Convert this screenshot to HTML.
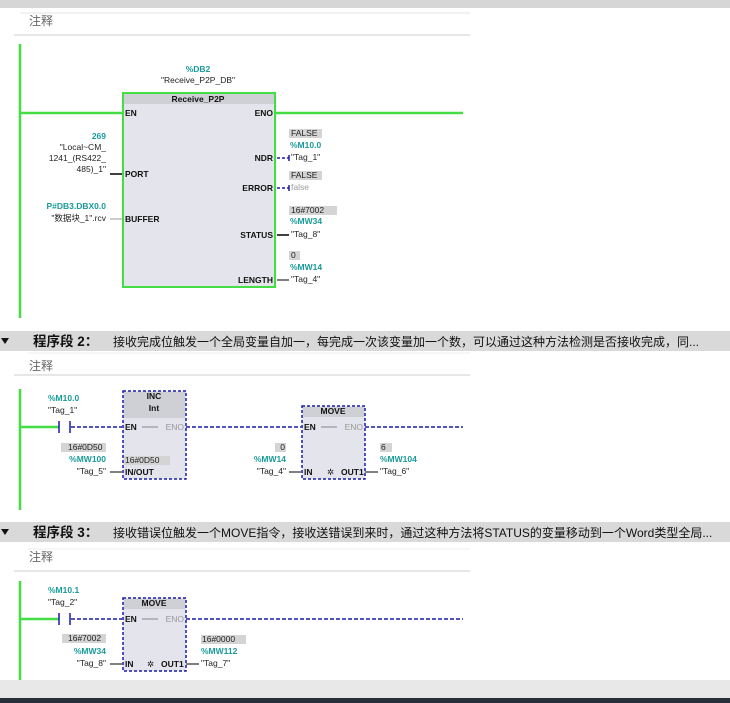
<!DOCTYPE html>
<html><head><meta charset="utf-8"><style>
html,body{margin:0;padding:0;background:#fff;width:730px;height:703px;overflow:hidden}
svg{display:block}
text{font-family:"Liberation Sans","Noto Sans CJK SC",sans-serif;font-size:8.5px;fill:#222}
.t{fill:#1a9a9a;font-weight:bold}
.b{font-weight:bold;fill:#111}
.g{fill:#999}
.cj{font-size:12px;fill:#666}
.h{font-size:13.5px;font-weight:bold;fill:#111}
.hd{font-size:12px;fill:#111}
</style></head><body>
<svg width="730" height="703" viewBox="0 0 730 703" xmlns="http://www.w3.org/2000/svg">
<rect x="0" y="0" width="730" height="8" fill="#d6d6d6"/>
<line x1="20" y1="13" x2="470" y2="13" stroke="#e6e6e6"/>
<text x="29" y="25" class="cj">注释</text>
<line x1="14" y1="35" x2="470" y2="35" stroke="#cfcfcf"/>

<line x1="20" y1="44" x2="20" y2="318" stroke="#44dd44" stroke-width="2.5"/>
<line x1="20" y1="113" x2="122" y2="113" stroke="#44dd44" stroke-width="2.5"/>
<line x1="276" y1="113" x2="463" y2="113" stroke="#44dd44" stroke-width="2.5"/>
<text x="198" y="72" class="t" text-anchor="middle">%DB2</text>
<text x="198" y="83" text-anchor="middle">"Receive_P2P_DB"</text>
<rect x="123" y="93" width="152" height="194" fill="#e4e4ec" stroke="#44dd44" stroke-width="2"/>
<rect x="124" y="94" width="150" height="10" fill="#cfcfd6"/>
<text x="198" y="102" class="b" text-anchor="middle">Receive_P2P</text>
<text x="125" y="116" class="b">EN</text>
<text x="273" y="116" class="b" text-anchor="end">ENO</text>
<text x="106" y="139" class="t" text-anchor="end">269</text>
<text x="106" y="150" text-anchor="end" fill="#557">"Local~CM_</text>
<text x="106" y="161" text-anchor="end" fill="#557">1241_(RS422_</text>
<text x="106" y="172" text-anchor="end" fill="#557">485)_1"</text>
<line x1="110" y1="174" x2="122" y2="174" stroke="#000" stroke-width="1.5"/>
<text x="125" y="177" class="b">PORT</text>
<text x="106" y="209" class="t" text-anchor="end">P#DB3.DBX0.0</text>
<text x="106" y="221" text-anchor="end">"数据块_1".rcv</text>
<line x1="110" y1="219" x2="122" y2="219" stroke="#999"/>
<text x="125" y="222" class="b">BUFFER</text>
<rect x="289" y="129" width="33" height="9" fill="#d4d4d4"/>
<text x="291" y="136">FALSE</text>
<text x="290" y="148" class="t">%M10.0</text>
<text x="273" y="161" class="b" text-anchor="end">NDR</text>
<line x1="277" y1="158" x2="289" y2="158" stroke="#1a1aaa" stroke-width="1.5" stroke-dasharray="3,2"/>
<line x1="289" y1="155" x2="289" y2="161" stroke="#1a1aaa" stroke-width="1.5"/>
<text x="291" y="160">"Tag_1"</text>
<rect x="289" y="171" width="33" height="9" fill="#d4d4d4"/>
<text x="291" y="178">FALSE</text>
<text x="273" y="191" class="b" text-anchor="end">ERROR</text>
<line x1="277" y1="188" x2="289" y2="188" stroke="#1a1aaa" stroke-width="1.5" stroke-dasharray="3,2"/>
<line x1="289" y1="185" x2="289" y2="191" stroke="#1a1aaa" stroke-width="1.5"/>
<text x="291" y="190" class="g">false</text>
<rect x="289" y="206" width="48" height="9" fill="#d4d4d4"/>
<text x="291" y="213">16#7002</text>
<text x="290" y="224" class="t">%MW34</text>
<text x="273" y="238" class="b" text-anchor="end">STATUS</text>
<line x1="277" y1="235" x2="289" y2="235" stroke="#000" stroke-width="1.5"/>
<text x="291" y="237">"Tag_8"</text>
<rect x="289" y="251" width="11" height="9" fill="#d4d4d4"/>
<text x="291" y="258">0</text>
<text x="290" y="270" class="t">%MW14</text>
<text x="273" y="283" class="b" text-anchor="end">LENGTH</text>
<line x1="277" y1="280" x2="289" y2="280" stroke="#000"/>
<text x="291" y="282">"Tag_4"</text>

<rect x="0" y="331" width="730" height="20" fill="#d9d9d9"/>
<polygon points="1,338 9,338 5,344" fill="#111"/>
<text x="33" y="346" class="h">程序段 2：</text>
<text x="113" y="346" class="hd">接收完成位触发一个全局变量自加一，每完成一次该变量加一个数，可以通过这种方法检测是否接收完成，同...</text>
<line x1="28" y1="353" x2="470" y2="353" stroke="#eee"/>
<text x="29" y="370" class="cj">注释</text>
<line x1="14" y1="375" x2="470" y2="375" stroke="#cfcfcf"/>

<line x1="20" y1="389" x2="20" y2="510" stroke="#44dd44" stroke-width="2.5"/>
<line x1="20" y1="427" x2="59" y2="427" stroke="#44dd44" stroke-width="2.5"/>
<line x1="59" y1="421" x2="59" y2="433" stroke="#1a1aaa" stroke-width="1.5"/>
<line x1="70" y1="421" x2="70" y2="433" stroke="#1a1aaa" stroke-width="1.5"/>
<line x1="71" y1="427" x2="122" y2="427" stroke="#1a1aaa" stroke-width="1.5" stroke-dasharray="4,2"/>
<line x1="186" y1="427" x2="301" y2="427" stroke="#1a1aaa" stroke-width="1.5" stroke-dasharray="4,2"/>
<line x1="365" y1="427" x2="463" y2="427" stroke="#1a1aaa" stroke-width="1.5" stroke-dasharray="4,2"/>
<text x="48" y="401" class="t">%M10.0</text>
<text x="48" y="413">"Tag_1"</text>
<rect x="123" y="391" width="63" height="88" fill="#e4e4ec" stroke="#1a1aaa" stroke-width="1.5" stroke-dasharray="3,2"/>
<rect x="124" y="392" width="61" height="26" fill="#cfcfd6"/>
<text x="154" y="399" class="b" text-anchor="middle">INC</text>
<text x="154" y="411" class="b" text-anchor="middle">Int</text>
<text x="125" y="430" class="b">EN</text>
<line x1="142" y1="427" x2="158" y2="427" stroke="#888"/>
<text x="184" y="430" class="g" text-anchor="end">ENO</text>
<rect x="124" y="456" width="46" height="9" fill="#d4d4d4"/>
<text x="125" y="463">16#0D50</text>
<text x="125" y="475" class="b">IN/OUT</text>
<rect x="61" y="443" width="45" height="9" fill="#d4d4d4"/>
<text x="68" y="450">16#0D50</text>
<text x="106" y="462" class="t" text-anchor="end">%MW100</text>
<text x="106" y="474" text-anchor="end">"Tag_5"</text>
<line x1="110" y1="472" x2="122" y2="472" stroke="#000"/>
<rect x="302" y="406" width="63" height="73" fill="#e4e4ec" stroke="#1a1aaa" stroke-width="1.5" stroke-dasharray="3,2"/>
<rect x="303" y="407" width="61" height="10" fill="#cfcfd6"/>
<text x="333" y="414" class="b" text-anchor="middle">MOVE</text>
<text x="304" y="430" class="b">EN</text>
<line x1="321" y1="427" x2="337" y2="427" stroke="#888"/>
<text x="363" y="430" class="g" text-anchor="end">ENO</text>
<text x="304" y="475" class="b">IN</text>
<text x="327" y="475" fill="#cc0">✲</text>
<text x="341" y="475" class="b">OUT1</text>
<rect x="275" y="443" width="11" height="9" fill="#d4d4d4"/>
<text x="285" y="450" text-anchor="end">0</text>
<text x="286" y="462" class="t" text-anchor="end">%MW14</text>
<text x="286" y="474" text-anchor="end">"Tag_4"</text>
<line x1="289" y1="472" x2="301" y2="472" stroke="#000"/>
<line x1="365" y1="472" x2="378" y2="472" stroke="#000"/>
<rect x="380" y="443" width="12" height="9" fill="#d4d4d4"/>
<text x="381" y="450">6</text>
<text x="380" y="462" class="t">%MW104</text>
<text x="380" y="474">"Tag_6"</text>

<rect x="0" y="522" width="730" height="20" fill="#d9d9d9"/>
<polygon points="1,529 9,529 5,535" fill="#111"/>
<text x="33" y="537" class="h">程序段 3：</text>
<text x="113" y="537" class="hd">接收错误位触发一个MOVE指令，接收送错误到来时，通过这种方法将STATUS的变量移动到一个Word类型全局...</text>
<line x1="28" y1="549" x2="470" y2="549" stroke="#eee"/>
<text x="29" y="561" class="cj">注释</text>
<line x1="14" y1="571" x2="470" y2="571" stroke="#cfcfcf"/>

<line x1="20" y1="581" x2="20" y2="680" stroke="#44dd44" stroke-width="2.5"/>
<line x1="20" y1="619" x2="59" y2="619" stroke="#44dd44" stroke-width="2.5"/>
<line x1="59" y1="613" x2="59" y2="625" stroke="#1a1aaa" stroke-width="1.5"/>
<line x1="70" y1="613" x2="70" y2="625" stroke="#1a1aaa" stroke-width="1.5"/>
<line x1="71" y1="619" x2="122" y2="619" stroke="#1a1aaa" stroke-width="1.5" stroke-dasharray="4,2"/>
<line x1="186" y1="619" x2="463" y2="619" stroke="#1a1aaa" stroke-width="1.5" stroke-dasharray="4,2"/>
<text x="48" y="593" class="t">%M10.1</text>
<text x="48" y="605">"Tag_2"</text>
<rect x="123" y="598" width="63" height="73" fill="#e4e4ec" stroke="#1a1aaa" stroke-width="1.5" stroke-dasharray="3,2"/>
<rect x="124" y="599" width="61" height="10" fill="#cfcfd6"/>
<text x="154" y="606" class="b" text-anchor="middle">MOVE</text>
<text x="125" y="622" class="b">EN</text>
<line x1="142" y1="619" x2="158" y2="619" stroke="#888"/>
<text x="184" y="622" class="g" text-anchor="end">ENO</text>
<text x="125" y="667" class="b">IN</text>
<text x="147" y="667" fill="#cc0">✲</text>
<text x="161" y="667" class="b">OUT1</text>
<rect x="62" y="634" width="44" height="9" fill="#d4d4d4"/>
<text x="68" y="641">16#7002</text>
<text x="106" y="654" class="t" text-anchor="end">%MW34</text>
<text x="106" y="666" text-anchor="end">"Tag_8"</text>
<line x1="110" y1="664" x2="122" y2="664" stroke="#000"/>
<line x1="186" y1="664" x2="199" y2="664" stroke="#000"/>
<rect x="201" y="635" width="45" height="9" fill="#d4d4d4"/>
<text x="202" y="642">16#0000</text>
<text x="201" y="654" class="t">%MW112</text>
<text x="201" y="666">"Tag_7"</text>

<rect x="0" y="680" width="730" height="18" fill="#e8e8e8"/>
<rect x="0" y="698" width="730" height="5" fill="#2a2e3a"/>
</svg>
</body></html>
